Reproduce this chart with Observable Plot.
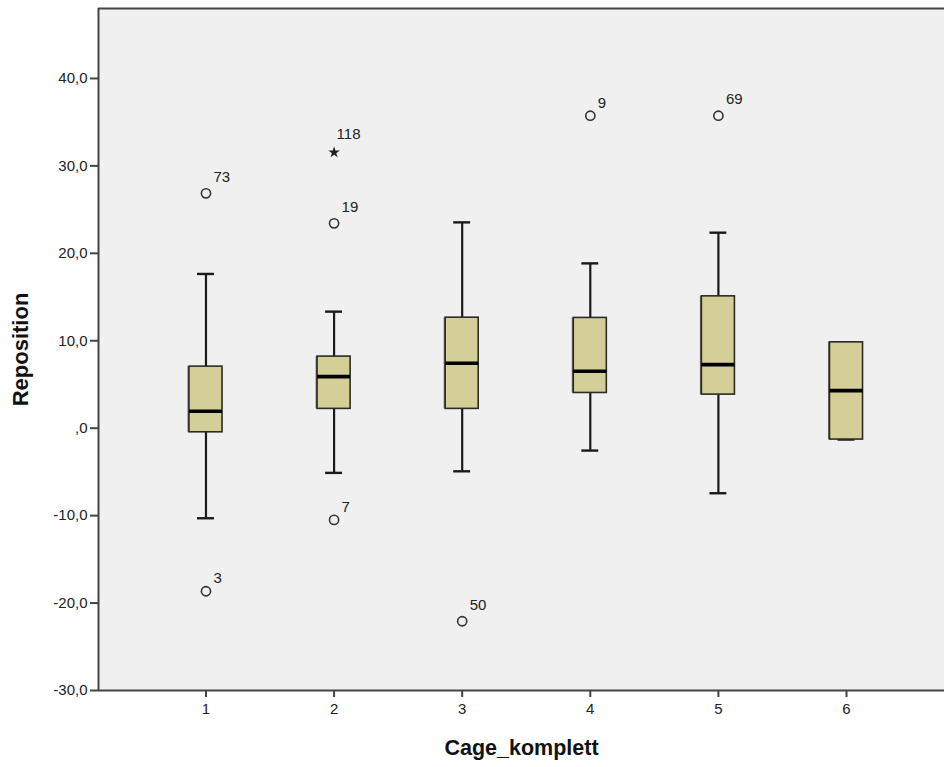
<!DOCTYPE html>
<html>
<head>
<meta charset="utf-8">
<script src="https://cdn.jsdelivr.net/npm/d3@7"></script>
<script src="https://cdn.jsdelivr.net/npm/@observablehq/plot@0.6"></script>
<style>
  html, body { margin: 0; padding: 0; background: #ffffff; }
  .spss [aria-label="y-axis label"] text { font-size: 22px; font-weight: bold; fill: #111; }
  .spss [aria-label="x-axis label"] text { font-size: 21.5px; font-weight: bold; fill: #111; }
</style>
</head>
<body>
<div id="chart"></div>
<script>
// ---- data ----
const categories   = [1, 2, 3, 4, 5, 6];
const q1           = [-0.47, 2.21, 2.21, 4.03, 3.84, -1.30];
const medians      = [1.93, 5.90, 7.42, 6.51, 7.27, 4.30];
const q3           = [7.04, 8.19, 12.64, 12.61, 15.08, 9.82];
const whiskerLow   = [-10.30, -5.11, -4.93, -2.56, -7.44, -1.30];
const whiskerHigh  = [17.64, 13.33, 23.54, 18.85, 22.36, 9.82];

const outlierCategory = [1, 1, 2, 2, 2, 3, 4, 5];
const outlierValue    = [26.86, -18.65, 31.54, 23.43, -10.49, -22.08, 35.74, 35.74];
const outlierCase     = ["73", "3", "118", "19", "7", "50", "9", "69"];
const outlierKind     = ["circle", "circle", "extreme", "circle", "circle", "circle", "circle", "circle"];

const yTicks      = [-30, -20, -10, 0, 10, 20, 30, 40];
const yTickLabels = ["-30,0", "-20,0", "-10,0", ",0", "10,0", "20,0", "30,0", "40,0"];
const xTicks      = [1, 2, 3, 4, 5, 6];
const xTickLabels = ["1", "2", "3", "4", "5", "6"];

// ---- tables built from the arrays ----
const boxes = categories.map((c, i) => ({
  c, q1: q1[i], med: medians[i], q3: q3[i], lo: whiskerLow[i], hi: whiskerHigh[i]
}));
const outliers = outlierCategory.map((c, i) => ({
  c, v: outlierValue[i], id: outlierCase[i], kind: outlierKind[i]
}));

const xDomain = [0.161, 6.765];
const yDomain = [-30, 48];
const half = 0.129;    // half box width (x units)
const capHalf = 0.066; // half cap width

const ink = "#1a1a1a";

const chart = Plot.plot({
  className: "spss",
  width: 944,
  height: 767,
  marginLeft: 98,
  marginRight: 0,
  marginTop: 8,
  marginBottom: 77,
  style: { fontFamily: "Liberation Sans, Arial, sans-serif", background: "#ffffff", color: "#222" },
  x: { type: "linear", domain: xDomain },
  y: { type: "linear", domain: yDomain },
  marks: [
    Plot.frame({ fill: "#f0f0f0", stroke: null }),
    // axes frame lines (left, bottom, top)
    Plot.ruleX([xDomain[0]], { stroke: "#444", strokeWidth: 2 }),
    Plot.ruleY([yDomain[0]], { stroke: "#444", strokeWidth: 2 }),
    Plot.ruleY([yDomain[1]], { stroke: "#444", strokeWidth: 2 }),
    // whiskers
    Plot.ruleX(boxes, { x: "c", y1: "lo", y2: "q1", stroke: ink, strokeWidth: 2.2 }),
    Plot.ruleX(boxes, { x: "c", y1: "q3", y2: "hi", stroke: ink, strokeWidth: 2.2 }),
    Plot.ruleY(boxes, { y: "hi", x1: d => d.c - capHalf, x2: d => d.c + capHalf, stroke: ink, strokeWidth: 2.4 }),
    Plot.ruleY(boxes, { y: "lo", x1: d => d.c - capHalf, x2: d => d.c + capHalf, stroke: ink, strokeWidth: 2.4 }),
    // shadow on box left side
    Plot.rect(boxes, { x1: d => d.c - half, x2: d => d.c + half, y1: "q1", y2: "q3", fill: "#7d7a5a", dx: -1.5, dy: 0 }),
    // boxes
    Plot.rect(boxes, { x1: d => d.c - half, x2: d => d.c + half, y1: "q1", y2: "q3", fill: "#d3cf97", stroke: "#2a2a2a", strokeWidth: 1.6 }),
    // medians
    Plot.ruleY(boxes, { y: "med", x1: d => d.c - half, x2: d => d.c + half, stroke: "#000", strokeWidth: 3.6 }),
    // outliers
    Plot.dot(outliers.filter(d => d.kind === "circle"), { x: "c", y: "v", r: 4.6, stroke: "#333", strokeWidth: 1.6, fill: "none" }),
    Plot.dot(outliers.filter(d => d.kind === "extreme"), { x: "c", y: "v", r: 3.6, symbol: "star", fill: "#222", stroke: "none" }),
    // case labels
    Plot.text(outliers.filter(d => d.kind === "circle" && d.id.length > 1), { x: "c", y: "v", text: "id", dx: 7.5, dy: -16.5, textAnchor: "start", fontSize: 15, fill: "#222" }),
    Plot.text(outliers.filter(d => d.kind === "circle" && d.id.length === 1), { x: "c", y: "v", text: "id", dx: 7.5, dy: -13, textAnchor: "start", fontSize: 15, fill: "#222" }),
    Plot.text(outliers.filter(d => d.kind === "extreme"), { x: "c", y: "v", text: "id", dx: 2.5, dy: -18, textAnchor: "start", fontSize: 15, fill: "#222" }),
    // axes
    Plot.axisY(yTicks, {
      tickFormat: d => yTickLabels[yTicks.indexOf(d)],
      tickSize: 8, tickPadding: 3, strokeWidth: 2, stroke: "#444",
      fontSize: 15, fill: "#222",
      label: "Reposition", labelAnchor: "center", labelArrow: "none", labelOffset: 86
    }),
    Plot.axisX(xTicks, {
      tickFormat: d => xTickLabels[xTicks.indexOf(d)],
      tickSize: 7, tickPadding: 6, strokeWidth: 2, stroke: "#444",
      fontSize: 15, fill: "#222",
      label: "Cage_komplett", labelAnchor: "center", labelArrow: "none", labelOffset: 64
    })
  ]
});
document.getElementById("chart").appendChild(chart);
</script>
</body>
</html>
